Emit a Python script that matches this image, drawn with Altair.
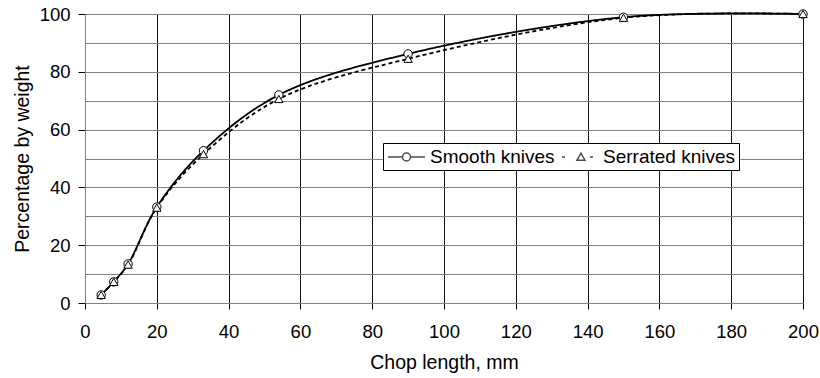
import altair as alt
import pandas as pd

# ---- data ----
chop_mm = [4.5, 8, 12, 20, 33, 54, 90, 150, 200]
smooth_pct = [2.8, 7.3, 13.5, 33.2, 52.7, 72.0, 86.2, 98.9, 100.0]
serrated_pct = [2.8, 7.3, 13.3, 33.0, 51.5, 70.6, 84.5, 98.7, 100.0]
series_names = ["Smooth knives", "Serrated knives"]
x_ticks = list(range(0, 201, 20))
y_grid = list(range(0, 101, 10))

rows = []
for name, vals in zip(series_names, [smooth_pct, serrated_pct]):
    for xv, yv in zip(chop_mm, vals):
        rows.append({"x": xv, "y": yv, "series": name})
df = pd.DataFrame(rows)

FONT = "Liberation Sans"

# legend glyphs (line + marker), in units of sqrt(symbolSize)/2 = 10 px
legend_paths = [
    "M-0.9,0H0.55 M1.35,0H2.8 M0.55,0A0.4,0.4 0 1,0 1.35,0A0.4,0.4 0 1,0 0.55,0",
    "M-0.8,0H-0.5 M2.0,0H2.3 M0.7,0.32L1.1,-0.38L1.5,0.32Z",
]

x_enc = alt.X(
    "x:Q",
    scale=alt.Scale(domain=[0, 200], nice=False),
    axis=alt.Axis(
        values=x_ticks, title="Chop length, mm", grid=True, gridColor="#111",
        gridWidth=1, tickSize=6, tickColor="#000", domainColor="#808080",
        labelPadding=13, titlePadding=13, labelFont=FONT, titleFont=FONT,
        labelFontSize=18.5, titleFontSize=19.5, labelColor="#000",
        titleColor="#000", titleFontWeight="normal", labelFlush=False,
    ),
)
y_enc = alt.Y(
    "y:Q",
    scale=alt.Scale(domain=[0, 100], nice=False),
    axis=alt.Axis(
        values=y_grid, title="Percentage by weight", grid=True,
        gridColor="#808080", gridWidth=1, tickSize=7,
        tickColor={"condition": {"test": "datum.value % 20 != 0", "value": "transparent"}, "value": "#000"},
        labelExpr="datum.value % 20 == 0 ? datum.label : ''",
        domainColor="#808080", labelPadding=8, titlePadding=7,
        labelFont=FONT, titleFont=FONT, labelFontSize=18.5, titleFontSize=19.5,
        labelColor="#000", titleColor="#000", titleFontWeight="normal",
        labelFlush=False,
    ),
)

base = alt.Chart(df).encode(x=x_enc, y=y_enc)

lines = base.mark_line(interpolate="catmull-rom", color="black", strokeWidth=1.8).encode(
    strokeDash=alt.StrokeDash(
        "series:N",
        scale=alt.Scale(domain=series_names, range=[[1, 0], [4, 3]]),
        legend=None,
    )
)

points = base.mark_point(
    filled=True, fill="white", stroke="black", strokeWidth=1, size=70, opacity=1
).encode(
    shape=alt.Shape(
        "series:N",
        scale=alt.Scale(domain=series_names, range=["circle", "triangle-up"]),
        legend=None,
    )
)

# legend-only layer: rows filtered out, legend built from the explicit scale domain
legend_layer = base.mark_point(
    filled=True, fill="white", stroke="black", size=400
).transform_filter("false").encode(
    shape=alt.Shape(
        "series:N",
        scale=alt.Scale(domain=series_names, range=legend_paths),
        legend=alt.Legend(
            title=None, orient="none", legendX=298, legendY=129,
            direction="horizontal", strokeColor="#000", fillColor="white",
            padding=3, symbolSize=400, labelFont=FONT, labelFontSize=19,
            labelColor="#000", labelOffset=22, columnPadding=4,
        ),
    )
)

chart = (
    alt.layer(lines, points, legend_layer)
    .resolve_scale(shape="independent")
    .properties(
        width=718, height=289,
        autosize=alt.AutoSizeParams(type="none"),
        padding={"left": 85, "top": 14, "right": 17, "bottom": 75},
        background="white",
    )
    .configure_view(stroke=None)
)

chart.save("out.html", embed_options={"renderer": "svg", "actions": False})
